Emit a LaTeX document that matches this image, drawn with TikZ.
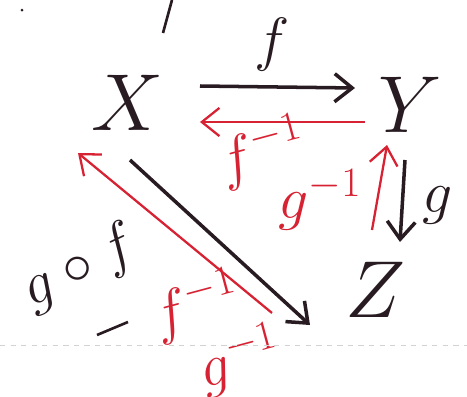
\RequirePackage{fix-cm}
\documentclass[tikz,border=0pt]{standalone}
\usetikzlibrary{arrows.meta,positioning,calc}
\definecolor{inkblack}{RGB}{40,28,34}
\definecolor{inkred}{RGB}{214,34,50}
\tikzset{>={Straight Barb[length=10pt,width=16pt]}}
\tikzstyle{obj} = [inner sep=4pt, text=inkblack, font=\fontsize{46}{50}\selectfont]
\tikzstyle{lbl} = [inner sep=0pt, font=\fontsize{34}{40}\selectfont]
\tikzstyle{blk} = [->, draw=inkblack, line width=2pt]
\tikzstyle{rd} = [->, draw=inkred, line width=1.3pt]
\begin{document}
\begin{tikzpicture}[x=0.02cm,y=-0.02cm]
	\useasboundingbox (0,0) rectangle (467,396);
	% objects
	\node[obj] (X) at (128,103) {$X$};
	\node[obj] (Y) at (410,105) {$Y$};
	\node[obj] (Z) at (375,290) {$Z$};
	% black maps
	\draw[blk] ($(X)+(72,-17)$) -- ($(Y)+(-55,-17)$);
	\draw[blk] ($(Y)+(-5,55)$) -- ($(Z)+(25,-48)$);
	\draw[blk] ($(X)+(2,57)$) -- ($(Z)+(-65,35)$);
	% red inverses
	\draw[rd] ($(Y)+(-45,17)$) -- ($(X)+(72,19)$);
	\draw[rd] ($(Z)+(-3,-60)$) -- ($(Y)+(-23,40)$);
	\draw[rd] ($(Z)+(-103,23)$) -- ($(X)+(-50,50)$);
	% labels
	\node[lbl, text=inkblack] (flbl) at (272,45) {$f$};
	\node[lbl, text=inkred, rotate=15] (finv) at (262,152) {$f^{-1}$};
	\node[lbl, text=inkred] (ginv) at (320,200) {$g^{-1}$};
	\node[lbl, text=inkblack] (glbl) at (438,205) {$g$};
	\node[lbl, text=inkblack, rotate=25] (gf) at (80,268) {$g\circ f$};
	\node[lbl, text=inkred, rotate=15] (fginvA) at (196,306) {$f^{-1}$};
	\node[lbl, text=inkred, rotate=15] (fginvB) at (240,360) {$g^{-1}$};
	% stray marks
	\fill[inkblack] (22,10) circle (1.5);
	\draw[inkblack, line width=1.5pt] (172,0) -- (163,33);
	\draw[inkblack, line width=1.5pt] (97,335) -- (128,322);
	\draw[gray!35, dashed, line width=0.4pt] (0,345) -- (467,345);
\end{tikzpicture}
\end{document}
